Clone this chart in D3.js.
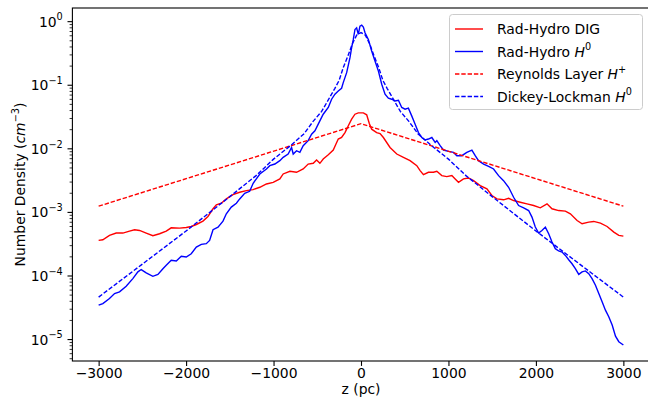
<!DOCTYPE html>
<html>
<head>
<meta charset="utf-8">
<script src="https://cdn.jsdelivr.net/npm/d3@7"></script>
<style>
  body { margin: 0; background: #fff; }
  text { font-family: "DejaVu Sans", sans-serif; fill: #000; }
</style>
</head>
<body>
<svg id="chart" width="648" height="399"></svg>
<script>
// tick labels
const zTicks = [-3000, -2000, -1000, 0, 1000, 2000, 3000];
const yDecades = [0, -1, -2, -3, -4, -5];

// Rad-Hydro DIG (red solid), z in pc, density in cm^-3
const digZ = [-3000, -2952, -2876, -2799, -2723, -2647, -2589, -2532, -2456, -2380, -2303, -2227, -2170, -2074,
  -1998, -1941, -1883, -1807, -1750, -1692, -1654, -1597, -1540, -1464, -1387, -1311, -1234, -1157, -1081, -1004,
  -928, -890, -813, -737, -661, -604, -546, -508, -470, -432, -374, -317, -286, -260, -222, -183, -145, -107, -69,
  -31, 27, 65, 95, 122, 179, 218, 256, 332, 409, 485, 561, 638, 676, 714, 771, 828, 867, 924, 981, 1039, 1077,
  1115, 1172, 1229, 1287, 1363, 1440, 1497, 1554, 1630, 1688, 1745, 1821, 1898, 1974, 2050, 2127, 2184, 2260,
  2337, 2394, 2471, 2528, 2604, 2661, 2738, 2814, 2891, 2948, 3000];
const digN = [3.56e-4, 3.65e-4, 4.27e-4, 4.65e-4, 4.65e-4, 4.99e-4, 5.24e-4, 5.11e-4, 4.65e-4, 4.22e-4, 4.53e-4,
  4.99e-4, 5.62e-4, 5.56e-4, 5.69e-4, 5.90e-4, 6.34e-4, 7.16e-4, 8.47e-4, 1.12e-3, 1.29e-3, 1.37e-3, 1.60e-3,
  1.87e-3, 2.04e-3, 2.16e-3, 2.24e-3, 2.44e-3, 2.75e-3, 2.92e-3, 3.30e-3, 3.95e-3, 4.35e-3, 4.20e-3, 4.73e-3,
  5.66e-3, 5.81e-3, 6.55e-3, 5.81e-3, 6.79e-3, 7.94e-3, 9.40e-3, 1.17e-2, 1.40e-2, 1.48e-2, 1.77e-2, 2.26e-2,
  2.88e-2, 3.44e-2, 3.61e-2, 3.61e-2, 3.37e-2, 2.46e-2, 2.00e-2, 1.77e-2, 1.71e-2, 1.48e-2, 1.03e-2, 8.13e-3,
  7.21e-3, 6.40e-3, 5.33e-3, 4.46e-3, 3.85e-3, 4.20e-3, 4.20e-3, 4.36e-3, 3.72e-3, 3.59e-3, 3.72e-3, 3.30e-3,
  2.92e-3, 3.30e-3, 3.42e-3, 3.10e-3, 2.59e-3, 2.30e-3, 1.81e-3, 1.60e-3, 1.55e-3, 1.64e-3, 1.51e-3, 1.42e-3,
  1.34e-3, 1.26e-3, 1.16e-3, 1.34e-3, 1.12e-3, 1.05e-3, 1.03e-3, 9.33e-4, 7.33e-4, 6.50e-4, 6.90e-4, 7.08e-4,
  6.65e-4, 5.90e-4, 4.81e-4, 4.27e-4, 4.16e-4];

// Rad-Hydro H0 (blue solid)
const h0Z = [-3000, -2952, -2876, -2818, -2761, -2685, -2609, -2551, -2513, -2456, -2380, -2322, -2265, -2227,
  -2170, -2112, -2055, -1998, -1941, -1883, -1826, -1769, -1731, -1692, -1635, -1578, -1540, -1483, -1425, -1387,
  -1330, -1273, -1233, -1157, -1081, -1043, -985, -928, -890, -833, -794, -775, -737, -699, -661, -604, -565, -527,
  -489, -432, -374, -336, -298, -260, -222, -203, -164, -126, -107, -88, -69, -50, -31, -12, 8, 27, 46, 84, 122,
  160, 199, 237, 275, 313, 351, 389, 428, 466, 504, 542, 580, 619, 657, 695, 733, 771, 810, 848, 867, 905, 943,
  1000, 1058, 1096, 1153, 1210, 1268, 1306, 1344, 1402, 1459, 1516, 1573, 1630, 1688, 1745, 1802, 1860, 1917,
  1955, 1993, 2031, 2069, 2108, 2146, 2184, 2222, 2260, 2299, 2337, 2375, 2413, 2451, 2490, 2528, 2566, 2604,
  2642, 2681, 2719, 2757, 2795, 2833, 2872, 2910, 2948, 3000];
const h0N = [3.41e-5, 3.62e-5, 4.34e-5, 5.20e-5, 5.52e-5, 6.78e-5, 8.93e-5, 1.14e-4, 1.24e-4, 1.10e-4, 9.70e-5,
  1.04e-4, 1.28e-4, 1.45e-4, 1.73e-4, 1.69e-4, 2.00e-4, 1.95e-4, 2.20e-4, 2.80e-4, 3.08e-4, 3.16e-4, 3.56e-4,
  5.24e-4, 5.75e-4, 7.16e-4, 9.33e-4, 1.19e-3, 1.37e-3, 1.60e-3, 1.96e-3, 2.11e-3, 2.82e-3, 3.95e-3, 4.73e-3,
  5.33e-3, 5.66e-3, 6.40e-3, 7.21e-3, 8.13e-3, 1.03e-2, 8.13e-3, 9.16e-3, 8.63e-3, 1.10e-2, 1.32e-2, 1.67e-2,
  1.89e-2, 2.40e-2, 3.44e-2, 4.39e-2, 5.92e-2, 7.10e-2, 8.00e-2, 8.81e-2, 0.108, 0.155, 0.266, 0.382, 0.516,
  0.740, 0.785, 0.618, 0.836, 0.865, 0.805, 0.656, 0.516, 0.339, 0.236, 0.164, 0.102, 7.10e-2, 6.14e-2, 5.92e-2,
  5.57e-2, 5.71e-2, 4.39e-2, 4.13e-2, 4.28e-2, 3.24e-2, 2.40e-2, 1.77e-2, 1.48e-2, 1.35e-2, 1.40e-2, 1.48e-2,
  1.24e-2, 1.32e-2, 1.10e-2, 9.40e-3, 8.95e-3, 8.63e-3, 7.66e-3, 7.66e-3, 8.63e-3, 9.40e-3, 7.66e-3, 6.40e-3,
  5.66e-3, 5.21e-3, 4.73e-3, 3.72e-3, 3.10e-3, 2.44e-3, 1.70e-3, 1.26e-3, 1.16e-3, 1.05e-3, 8.28e-4, 5.77e-4,
  4.65e-4, 5.11e-4, 5.77e-4, 4.53e-4, 3.36e-4, 2.64e-4, 2.43e-4, 2.34e-4, 2.07e-4, 1.77e-4, 1.53e-4, 1.28e-4,
  1.04e-4, 1.14e-4, 1.18e-4, 1.07e-4, 8.93e-5, 7.01e-5, 5.20e-5, 3.85e-5, 2.85e-5, 2.24e-5, 1.66e-5, 1.11e-5,
  9.08e-6, 8.05e-6];

// Reynolds Layer H+ (red dashed)
const reyZ = [-3000, 0, 3000];
const reyN = [1.23e-3, 2.44e-2, 1.23e-3];

// Dickey-Lockman H0 (blue dashed)
const dlZ = [-3000, -2500, -2000, -1500, -1200, -1000, -800, -650, -550, -450, -350, -300, -250, -200, -150, -100,
  -50, 0, 50, 100, 150, 200, 250, 300, 350, 450, 550, 650, 800, 1000, 1200, 1500, 2000, 2500, 3000];
const dlN = [4.57e-5, 1.51e-4, 5.01e-4, 1.74e-3, 3.72e-3, 6.76e-3, 1.12e-2, 1.70e-2, 2.63e-2, 3.80e-2, 6.61e-2,
  8.71e-2, 0.117, 0.191, 0.282, 0.437, 0.603, 0.661, 0.603, 0.437, 0.282, 0.191, 0.117, 8.71e-2, 6.61e-2,
  3.80e-2, 2.63e-2, 1.70e-2, 1.12e-2, 6.76e-3, 3.72e-3, 1.74e-3, 5.01e-4, 1.51e-4, 4.57e-5];

const series = [
  { z: digZ, n: digN, color: 'red', dash: null, label: ['Rad-Hydro DIG'] },
  { z: h0Z, n: h0N, color: 'blue', dash: null, label: ['Rad-Hydro ', 'H', '0'] },
  { z: reyZ, n: reyN, color: 'red', dash: '4.4,1.9', label: ['Reynolds Layer ', 'H', '+'] },
  { z: dlZ, n: dlN, color: 'blue', dash: '4.4,1.9', label: ['Dickey-Lockman ', 'H', '0'] }
];

const width = 648;
const height = 399;
const plot = { left: 72.4, right: 649.6, top: 8, bottom: 361 };
const fs = 13.9;

const svg = d3.select('#chart');

const x = d3.scaleLinear()
    .domain([-3300, 3300])
    .range([plot.left, plot.right]);

const y = d3.scaleLog()
    .domain([Math.pow(10, -5.345), Math.pow(10, 0.207)])
    .range([plot.bottom, plot.top]);

svg.append('defs').append('clipPath').attr('id', 'clip')
  .append('rect')
    .attr('x', plot.left).attr('y', plot.top)
    .attr('width', plot.right - plot.left).attr('height', plot.bottom - plot.top);

// lines
const line = d3.line()
    .x(d => x(d[0]))
    .y(d => y(d[1]));

const lines = svg.append('g').attr('clip-path', 'url(#clip)');
series.forEach(s => {
  lines.append('path')
      .datum(s.z.map((z, i) => [z, s.n[i]]))
      .attr('d', line)
      .attr('fill', 'none')
      .attr('stroke', s.color)
      .attr('stroke-width', 1.4)
      .attr('stroke-dasharray', s.dash);
});

// x axis
const xAxis = svg.append('g')
    .attr('transform', 'translate(0,' + plot.bottom + ')')
    .call(d3.axisBottom(x)
      .tickValues(zTicks)
      .tickSize(4.9)
      .tickPadding(2.6)
      .tickSizeOuter(0)
      .tickFormat(d => d < 0 ? '\u2212' + Math.abs(d) : d));
xAxis.select('.domain').remove();
xAxis.selectAll('line').attr('stroke-width', 1.1);
xAxis.selectAll('text').attr('font-size', fs).attr('font-family', 'DejaVu Sans');

// y axis, minor ticks
const minor = [];
for (let e = -6; e <= 0; e++) {
  for (let k = 2; k <= 9; k++) {
    const v = k * Math.pow(10, e);
    if (v > y.domain()[0] && v < y.domain()[1]) minor.push(v);
  }
}
const yMinor = svg.append('g')
    .attr('transform', 'translate(' + plot.left + ',0)')
    .call(d3.axisLeft(y).tickValues(minor).tickSize(2.8).tickFormat(''));
yMinor.select('.domain').remove();
yMinor.selectAll('line').attr('stroke-width', 0.8);

// y axis, major ticks
const yMajor = svg.append('g')
    .attr('transform', 'translate(' + plot.left + ',0)')
    .call(d3.axisLeft(y).tickValues(yDecades.map(e => Math.pow(10, e))).tickSize(4.9).tickFormat(''));
yMajor.select('.domain').remove();
yMajor.selectAll('line').attr('stroke-width', 1.1);

const yLabels = svg.append('g');
yDecades.forEach(e => {
  const t = yLabels.append('text')
      .attr('x', plot.left - 9.6)
      .attr('y', y(Math.pow(10, e)) + 5.5)
      .attr('text-anchor', 'end')
      .attr('font-size', fs);
  t.append('tspan').text('10');
  t.append('tspan')
      .attr('dy', -6.3)
      .attr('font-size', fs * 0.7)
      .text(e === 0 ? '0' : '\u2212' + Math.abs(e));
});

// frame
svg.append('rect')
    .attr('x', plot.left).attr('y', plot.top)
    .attr('width', plot.right - plot.left).attr('height', plot.bottom - plot.top)
    .attr('fill', 'none')
    .attr('stroke', '#000')
    .attr('stroke-width', 1.1);

// axis titles
svg.append('text')
    .attr('x', (plot.left + plot.right) / 2)
    .attr('y', 394)
    .attr('text-anchor', 'middle')
    .attr('font-size', fs)
    .text('z (pc)');

const yTitle = svg.append('text')
    .attr('transform', 'translate(25,' + ((plot.top + plot.bottom) / 2) + ') rotate(-90)')
    .attr('text-anchor', 'middle')
    .attr('font-size', fs);
yTitle.append('tspan').text('Number Density (');
yTitle.append('tspan').attr('font-style', 'italic').text('cm');
yTitle.append('tspan').attr('dy', -6.3).attr('font-size', fs * 0.7).text('\u22123');
yTitle.append('tspan').attr('dy', 6.3).text(')');

// legend
const legend = svg.append('g');
legend.append('rect')
    .attr('x', 449.5).attr('y', 14.5)
    .attr('width', 193).attr('height', 95)
    .attr('rx', 3)
    .attr('fill', '#fff')
    .attr('fill-opacity', 0.8)
    .attr('stroke', '#cccccc')
    .attr('stroke-width', 1);

const rowY = [29, 51.5, 74, 96.5];
series.forEach((s, i) => {
  legend.append('line')
      .attr('x1', 455).attr('x2', 483)
      .attr('y1', rowY[i]).attr('y2', rowY[i])
      .attr('stroke', s.color)
      .attr('stroke-width', 1.4)
      .attr('stroke-dasharray', s.dash);
  const t = legend.append('text')
      .attr('x', 497)
      .attr('y', rowY[i] + 5)
      .attr('font-size', fs);
  t.append('tspan').text(s.label[0]);
  if (s.label.length > 1) {
    t.append('tspan').attr('font-style', 'italic').text(s.label[1]);
    t.append('tspan').attr('dy', -6.3).attr('font-size', fs * 0.7).text(s.label[2]);
  }
});
</script>
</body>
</html>
